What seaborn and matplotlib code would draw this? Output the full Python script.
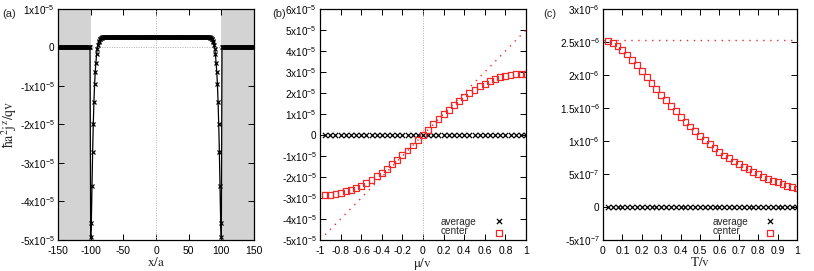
import numpy as np
import pandas as pd
import matplotlib
matplotlib.use("Agg")
import matplotlib.pyplot as plt
import seaborn as sns
from matplotlib.ticker import FuncFormatter, MultipleLocator

# ---------------- data ----------------
# panel (a): current profile along x (units of 1e-5)
edge_profile = [-4.93, -4.57, -3.59, -2.71, -1.99, -1.41, -0.96, -0.63, -0.39,
                -0.18, -0.04, 0.06, 0.13, 0.18, 0.21, 0.23, 0.24, 0.25]  # x = -100 .. -83
plateau_value = 0.26        # x = -82 .. 82
lead_value = 0.0            # |x| >= 101
x_a = np.arange(-150, 151)
n_lead = 50
n_plateau = 165
y_a = np.concatenate([
    [lead_value] * n_lead,
    edge_profile,
    [plateau_value] * n_plateau,
    edge_profile[::-1],
    [lead_value] * n_lead,
]) * 1e-5

# panel (b): vs chemical potential
mu_b = np.round(np.arange(-0.95, 1.0001, 0.05), 2)
center_b = np.array([-2.87, -2.86, -2.81, -2.75, -2.68, -2.62, -2.51, -2.41, -2.27, -2.14,
                     -1.97, -1.79, -1.62, -1.40, -1.21, -0.97, -0.74, -0.50, -0.25, 0.0,
                     0.25, 0.51, 0.75, 1.00, 1.21, 1.44, 1.63, 1.83, 2.00, 2.16,
                     2.32, 2.44, 2.56, 2.67, 2.75, 2.81, 2.86, 2.89, 2.92, 2.92]) * 1e-5
average_b = np.zeros(len(mu_b))
slope_b = 5.0e-5
line_mu_b = np.array([-0.95, 1.0])

# panel (c): vs temperature
T_c = np.round(np.arange(0.025, 1.0001, 0.025), 3)
center_c = np.array([2.515, 2.485, 2.44, 2.38, 2.31, 2.23, 2.15, 2.06, 1.97, 1.88,
                     1.79, 1.70, 1.62, 1.535, 1.455, 1.37, 1.29, 1.22, 1.15, 1.08,
                     1.015, 0.955, 0.89, 0.84, 0.78, 0.74, 0.69, 0.65, 0.61, 0.57,
                     0.53, 0.495, 0.46, 0.43, 0.40, 0.375, 0.35, 0.32, 0.30, 0.28]) * 1e-6
average_c = np.zeros(len(T_c))
zeroT_value = 2.535e-6
line_T_c = np.array([0.0, 1.0])

legend_labels = ["average", "center"]

# ---------------- style ----------------
sns.set_theme(style="ticks")
plt.rcParams.update({
    "font.family": ["Liberation Sans", "DejaVu Sans"],
    "font.size": 7.5,
    "mathtext.fontset": "custom",
    "mathtext.rm": "Liberation Sans",
    "mathtext.it": "Liberation Sans:italic",
    "mathtext.default": "rm",
    "axes.linewidth": 0.9,
    "axes.edgecolor": "black",
    "xtick.direction": "in",
    "ytick.direction": "in",
    "xtick.top": True,
    "ytick.right": True,
    "xtick.major.size": 4,
    "ytick.major.size": 4,
    "xtick.major.width": 0.7,
    "ytick.major.width": 0.7,
    "xtick.color": "black",
    "ytick.color": "black",
    "xtick.labelsize": 7.5,
    "ytick.labelsize": 7.2,
    "xtick.major.pad": 4,
    "ytick.major.pad": 2.5,
})


def sci_fmt(v, pos):
    if abs(v) < 1e-15:
        return "0"
    e = int(np.floor(np.log10(abs(v)) + 1e-9))
    m = v / 10 ** e
    return f"{m:g}x10$^{{{e}}}$"


def plain_fmt(v, pos):
    if abs(v) < 1e-12:
        return "0"
    return f"{v:g}"


fig = plt.figure(figsize=(8.14, 2.71), dpi=100)
W, H = 814, 271


def add_ax(l, r, t=9, b=240):
    return fig.add_axes([l / W, (H - b) / H, (r - l) / W, (b - t) / H])


axa = add_ax(58, 254)
axb = add_ax(320, 526)
axc = add_ax(603, 797)

red = "#f02828"
dot_gray = "#b0b0b0"
math_kw = dict(math_fontfamily="stix", fontsize=9.5)

# ---- (a) ----
axa.axvspan(-150, -100, color="#d3d3d3", lw=0, zorder=0)
axa.axvspan(100, 150, color="#d3d3d3", lw=0, zorder=0)
axa.axhline(0, color=dot_gray, lw=0.7, ls=(0, (1, 1.5)), zorder=1)
axa.axvline(0, color=dot_gray, lw=0.7, ls=(0, (1, 1.5)), zorder=1)
df_a = pd.DataFrame({"x": x_a, "y": y_a})
sns.lineplot(data=df_a, x="x", y="y", ax=axa, color="black", lw=0.9,
             marker="x", markersize=3.5, markeredgewidth=0.9,
             markeredgecolor="black", zorder=3)
axa.set_xlim(-150, 150)
axa.set_ylim(-5e-5, 1e-5)
axa.xaxis.set_major_locator(MultipleLocator(50))
axa.yaxis.set_major_locator(MultipleLocator(1e-5))
axa.xaxis.set_major_formatter(FuncFormatter(plain_fmt))
axa.yaxis.set_major_formatter(FuncFormatter(sci_fmt))
axa.set_xlabel(r"$x/a$", **math_kw)
axa.set_ylabel(r"$\hbar a^2j^z/qv$", math_fontfamily="stix", fontsize=10)
axa.yaxis.set_label_coords(-0.2, 0.5)

# ---- (b) ----
axb.axvline(0, color=dot_gray, lw=0.7, ls=(0, (1, 1.5)), zorder=1)
sns.lineplot(x=line_mu_b, y=slope_b * line_mu_b, ax=axb, color=red, lw=1.0,
             ls=(0, (1, 4)), zorder=2)
sns.scatterplot(x=mu_b, y=average_b, ax=axb, marker="x", s=14, color="black",
                linewidth=0.9, zorder=3)
sns.scatterplot(x=mu_b, y=center_b, ax=axb, marker="s", s=18, facecolor="none",
                edgecolor=red, linewidth=0.9, zorder=4)
axb.set_xlim(-1, 1)
axb.set_ylim(-5e-5, 6e-5)
axb.xaxis.set_major_locator(MultipleLocator(0.2))
axb.yaxis.set_major_locator(MultipleLocator(1e-5))
axb.xaxis.set_major_formatter(FuncFormatter(plain_fmt))
axb.yaxis.set_major_formatter(FuncFormatter(sci_fmt))
axb.set_xlabel(r"$\mu/v$", **math_kw)
axb.set_ylabel("")

# ---- (c) ----
sns.lineplot(x=line_T_c, y=[zeroT_value] * len(line_T_c), ax=axc, color=red, lw=1.0,
             ls=(0, (1, 4)), zorder=2)
sns.scatterplot(x=T_c, y=average_c, ax=axc, marker="x", s=14, color="black",
                linewidth=0.9, zorder=3)
sns.scatterplot(x=T_c, y=center_c, ax=axc, marker="s", s=18, facecolor="none",
                edgecolor=red, linewidth=0.9, zorder=4)
axc.set_xlim(0, 1)
axc.set_ylim(-5e-7, 3e-6)
axc.xaxis.set_major_locator(MultipleLocator(0.1))
axc.yaxis.set_major_locator(MultipleLocator(5e-7))
axc.xaxis.set_major_formatter(FuncFormatter(plain_fmt))
axc.yaxis.set_major_formatter(FuncFormatter(sci_fmt))
axc.set_xlabel(r"$T/v$", **math_kw)
axc.set_ylabel("")

for ax in (axa, axb, axc):
    ax.xaxis.set_label_coords(0.5, -0.068)
    ax.xaxis.label.set_va("top")

# legends: gnuplot-style, left-aligned text and marker column to the right
for ax, tx, mx in ((axb, 0.587, 0.869), (axc, 0.567, 0.861)):
    h = ax.collections[-2:]
    ax.legend(h, ["", ""], loc="center", bbox_to_anchor=(mx, 0.058),
              frameon=False, handlelength=0.0, handletextpad=0.0,
              labelspacing=0.15, borderpad=0.0, borderaxespad=0.0, fontsize=7.5)
    ax.text(tx, 0.079, legend_labels[0], transform=ax.transAxes, fontsize=7.2,
            ha="left", va="center")
    ax.text(tx, 0.038, legend_labels[1], transform=ax.transAxes, fontsize=7.2,
            ha="left", va="center")

for ax in (axa, axb, axc):
    for s in ax.spines.values():
        s.set_visible(True)
        s.set_color("black")

fig.text(2 / W, 1 - 14 / H, "(a)", fontsize=8, va="center", ha="left")
fig.text(272 / W, 1 - 14 / H, "(b)", fontsize=8, va="center", ha="left")
fig.text(543 / W, 1 - 14 / H, "(c)", fontsize=8, va="center", ha="left")

fig.savefig("out.png", dpi=100)
